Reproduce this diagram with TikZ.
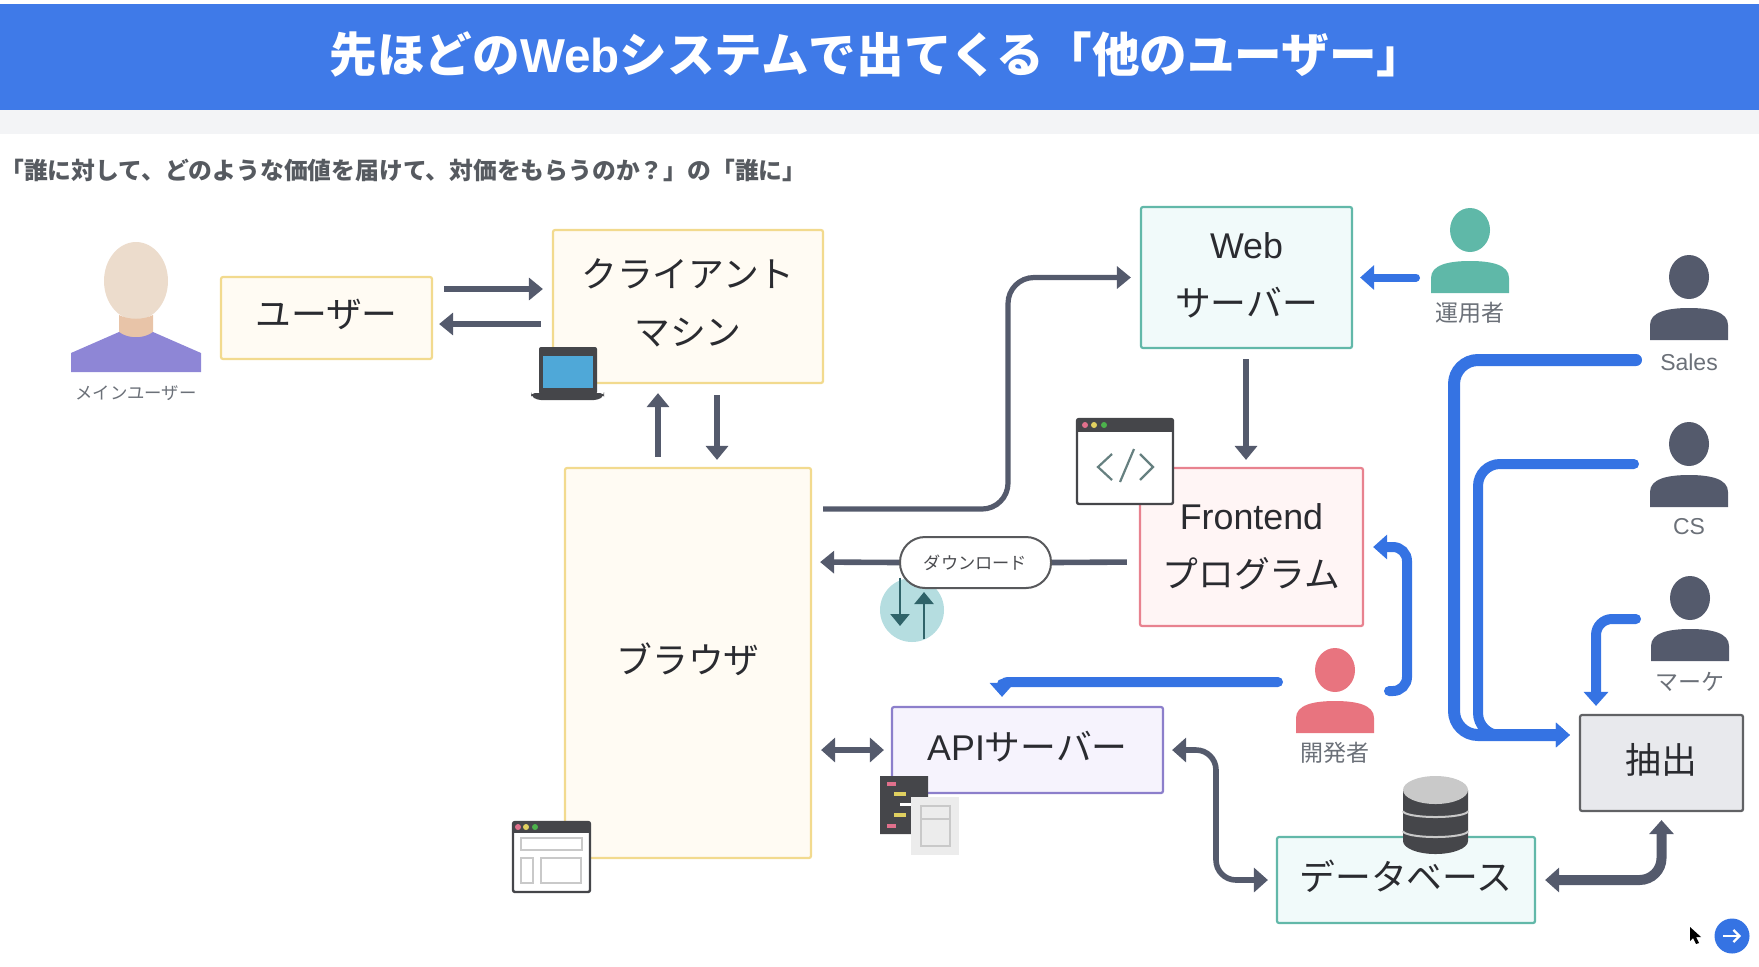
\documentclass[tikz,border=0pt]{standalone}
\usepackage{fontspec}
\setmainfont{Liberation Sans}
\newfontfamily\jp{Noto Sans CJK JP}
\usetikzlibrary{arrows.meta}

\definecolor{headblue}{HTML}{3F7AE8}
\definecolor{bandgrey}{HTML}{F3F4F6}
\definecolor{linkblue}{HTML}{3573E3}
\definecolor{slate}{HTML}{545A6C}
\definecolor{inkdark}{HTML}{2A2B30}
\definecolor{tagtext}{HTML}{6B7078}
\definecolor{iconblack}{HTML}{45464A}
\definecolor{icongrey}{HTML}{C9C9C9}
\definecolor{yellowline}{HTML}{F2DA8E}
\definecolor{yellowfill}{HTML}{FFFBF3}
\definecolor{tealline}{HTML}{62B8A9}
\definecolor{tealfill}{HTML}{F1FAFA}
\definecolor{redline}{HTML}{E8828F}
\definecolor{redfill}{HTML}{FFF5F5}
\definecolor{violetline}{HTML}{8C7FCB}
\definecolor{violetfill}{HTML}{F6F3FD}
\definecolor{greyfill}{HTML}{E8E9ED}
\definecolor{operatorteal}{HTML}{5FB8A8}
\definecolor{devred}{HTML}{E8747F}
\definecolor{bodyviolet}{HTML}{8E86D6}
\definecolor{headskin}{HTML}{ECDCCC}
\definecolor{neckskin}{HTML}{E8C4A8}
\definecolor{screenblue}{HTML}{4FA8D8}
\definecolor{circleteal}{HTML}{B5DDE0}
\definecolor{arrowteal}{HTML}{2F6369}
\definecolor{dotpink}{HTML}{E0708C}
\definecolor{dotyellow}{HTML}{E0D060}

\tikzset{
  textbig/.style={font=\jp\fontsize{17.9}{29}\selectfont,text=inkdark,align=center,text depth=4.5pt},
  box/.style={draw,rounded corners=1pt,line width=1.1pt,textbig},
  yellowbox/.style={box,draw=yellowline,fill=yellowfill},
  tealbox/.style={box,draw=tealline,fill=tealfill},
  tag/.style={font=\jp\fontsize{11.5}{14}\selectfont,text=tagtext},
  conn/.style={draw=slate,line width=2.6pt,-{Triangle[length=7pt,width=11pt]}},
  connwide/.style={draw=slate,line width=3.3pt,{Triangle[length=7pt,width=12pt]}-{Triangle[length=7pt,width=12pt]}},
  bluelink/.style={draw=linkblue,line width=5pt,line cap=round,-{Triangle[length=7pt,width=12pt]}},
  person/.pic={
    \fill[pic actions] (0,0) ellipse [x radius=20,y radius=22];
    \fill[pic actions] (-39,63) -- (-39,48) .. controls (-39,35) and (-22,31) .. (0,31)
      .. controls (22,31) and (39,35) .. (39,48) -- (39,63) -- cycle;
  }
}

\begin{document}
\begin{tikzpicture}[x=0.5pt,y=-0.5pt]
  \useasboundingbox (0,0) rectangle (1759,966);

  % title
  \fill[headblue] (0,4) rectangle (1759,110);
  \fill[bandgrey] (0,110) rectangle (1759,134);
  \node[text=white,font=\jp\bfseries\fontsize{23.8}{26}\selectfont] (title) at (877,54)
    {先ほどの{\rmfamily Web}システムで出てくる「他のユーザー」};
  \node[anchor=west,inner sep=0pt,text=tagtext!80!black,font=\jp\bfseries\fontsize{11.9}{14}\selectfont] (question) at (0,170)
    {「誰に対して、どのような価値を届けて、対価をもらうのか？」の「誰に」};

  % boxes
  \node[yellowbox,minimum width=105.5pt,minimum height=41pt] (user) at (326.5,318) {ユーザー};
  \node[yellowbox,minimum width=135pt,minimum height=76.5pt] (client) at (688,306.5) {クライアント\\マシン};
  \node[yellowbox,minimum width=123pt,minimum height=195pt] (browser) at (688,663) {ブラウザ};
  \node[tealbox,text depth=2.5pt,minimum width=105.5pt,minimum height=70.5pt] (web) at (1246.5,277.5) {{\rmfamily Web}\\サーバー};
  \node[box,text depth=1.5pt,draw=redline,fill=redfill,minimum width=111.5pt,minimum height=79pt] (front) at (1251.5,547) {{\rmfamily Frontend}\\プログラム};
  \node[box,draw=violetline,fill=violetfill,minimum width=135.5pt,minimum height=43pt] (api) at (1027.5,750) {{\rmfamily API}サーバー};
  \node[tealbox,minimum width=129pt,minimum height=43pt] (db) at (1406,880) {データベース};
  \node[box,draw=iconblack!85,fill=greyfill,minimum width=81.5pt,minimum height=48pt] (extract) at (1661.5,763) {抽出};

  % main user
  \fill[headskin] (136,281) ellipse [x radius=32,y radius=39];
  \fill[neckskin] (119,315) .. controls (128,320) and (144,320) .. (153,315) -- (153,340) -- (119,340) -- cycle;
  \fill[bodyviolet] (71,372) -- (71,353) -- (119,332) .. controls (128,339) and (144,339) .. (153,332)
    -- (201,353) -- (201,372) -- cycle;
  \node[tag,font=\jp\fontsize{8.7}{10}\selectfont] (mainuser) at (136,393) {メインユーザー};

  % other people
  \pic[fill=operatorteal] (operator) at (1470,230) {person};
  \pic[fill=devred] (developer) at (1335,670) {person};
  \pic[fill=slate] (sales) at (1689,277) {person};
  \pic[fill=slate] (cs) at (1689,444) {person};
  \pic[fill=slate] (marke) at (1690,598) {person};
  \node[tag] (operatortag) at (1470,313) {運用者};
  \node[tag] (developertag) at (1335,753) {開発者};
  \node[tag,font=\fontsize{11.5}{14}\selectfont] (salestag) at (1689,362) {Sales};
  \node[tag,font=\fontsize{11.5}{14}\selectfont] (cstag) at (1689,527) {CS};
  \node[tag] (marketag) at (1690,682) {マーケ};

  \coordinate (operatorout) at (1416,277.5);
  \coordinate (salesout) at (1636,360);
  \coordinate (csout) at (1634,464);
  \coordinate (markeout) at (1636,619);
  \coordinate (devleft) at (1278,682);
  \coordinate (devright) at (1389,691);

  % grey connectors
  \draw[conn,line width=3.3pt,shorten <=5.5pt,shorten >=4.5pt] ([yshift=14.5pt]user.east) -- ([yshift=8.75pt]client.west);
  \draw[conn,line width=3.3pt,shorten <=5.5pt,shorten >=3pt] ([yshift=-8.75pt]client.west) -- ([yshift=-3pt]user.east);
  \draw[conn,shorten <=5pt,shorten >=4.5pt] ([xshift=-15pt]browser.north) -- ([xshift=-15pt]client.south);
  \draw[conn,shorten <=5.5pt,shorten >=3.5pt] ([xshift=14.5pt]client.south) -- ([xshift=14.5pt]browser.north);
  \draw[conn,rounded corners=13pt,shorten >=4.5pt] ([xshift=5.5pt,yshift=77pt]browser.east) -- (1008,509) -- (1008,277.5) -- (web.west);
  \draw[conn,shorten <=5pt,shorten >=3.5pt] ([xshift=-0.25pt]web.south) -- ([xshift=-2.75pt]front.north);
  \draw[connwide,shorten <=4.5pt,shorten >=3.5pt] ([yshift=-43.5pt]browser.east) -- (api.west);
  \draw[connwide,line width=2.8pt,rounded corners=10pt,shorten <=4pt,shorten >=4pt] (api.east) -- (1216,750) -- (1216,880) -- (db.west);
  \draw[connwide,line width=5pt,rounded corners=11pt,shorten <=4.5pt,shorten >=4pt] (db.east) -- (1661.5,880) -- (extract.south);

  % download
  \node[circle,fill=circleteal,minimum size=32pt,inner sep=0pt] (updown) at (912,610) {};
  \node[draw=iconblack!90,fill=white,line width=1pt,rounded corners=12.5pt,minimum width=75.5pt,minimum height=25.5pt,text=inkdark!85,font=\jp\fontsize{8.6}{10}\selectfont] (download) at (975.5,562.5) {ダウンロード};
  \draw[slate,line width=2.8pt,shorten <=6pt] ([yshift=-7.5pt]front.west) -- (download.east);
  \draw[conn,line width=2.8pt,shorten >=4pt] (download.west) -- ([yshift=50.5pt]browser.east);
  \draw[draw=arrowteal,line width=1.2pt,-{Triangle[length=6pt,width=9.5pt]}] ([xshift=-6pt]updown.north) -- ([xshift=-6pt,yshift=-8pt]updown.center);
  \draw[draw=arrowteal,line width=1.2pt,-{Triangle[length=6pt,width=9.5pt]}] ([xshift=6pt,yshift=-14.5pt]updown.center) -- ([xshift=6pt,yshift=9pt]updown.center);

  % blue connectors
  \draw[bluelink,line width=4pt,shorten >=3.5pt] (operatorout) -- (web.east);
  \draw[bluelink,line width=6pt,rounded corners=12pt,shorten >=4.5pt] (salesout) -- (1454,360) -- (1454,735) -- ([yshift=14pt]extract.west);
  \draw[bluelink,rounded corners=11pt,shorten >=4.5pt] (csout) -- (1478,464) -- (1478,735) -- ([yshift=14pt]extract.west);
  \draw[bluelink,rounded corners=8pt,shorten >=4pt] (markeout) -- (1596,619) -- ([xshift=-32.75pt]extract.north);
  \draw[bluelink,rounded corners=7pt,shorten >=4.5pt] (devright) -- (1407,691) -- (1407,547) -- (front.east);
  \draw[bluelink,rounded corners=3pt,shorten >=4.5pt] (devleft) -- (1002,682) -- ([xshift=-12.75pt]api.north);

  % laptop
  \fill[iconblack,rounded corners=1pt] (539,347) rectangle (597,394);
  \fill[screenblue] (543,356) rectangle (593,388);
  \fill[iconblack,rounded corners=2pt] (531,393) -- (604,393) -- (604,396) -- (598,400) -- (537,400) -- (531,396) -- cycle;

  % browser window
  \draw[iconblack,fill=white,line width=1.2pt,rounded corners=1pt] (513,822) rectangle (590,892);
  \fill[iconblack] (513,822) rectangle (590,833);
  \fill[dotpink] (518,827) circle (3);
  \fill[dotyellow] (526,827) circle (3);
  \fill[gray!60!green] (535,827) circle (3);
  \draw[icongrey,line width=1.2pt] (521,838) rectangle (582,850);
  \draw[icongrey,line width=1.2pt] (521,858) rectangle (533,883);
  \draw[icongrey,line width=1.2pt] (541,858) rectangle (581,883);

  % code window
  \draw[iconblack,fill=white,line width=1.2pt,rounded corners=1pt] (1077,419) rectangle (1173,504);
  \fill[iconblack] (1077,419) rectangle (1173,432);
  \fill[dotpink] (1085,425) circle (3);
  \fill[dotyellow] (1094,425) circle (3);
  \fill[gray!60!green] (1104,425) circle (3);
  \draw[gray!80!teal,line width=1.1pt] (1112,454) -- (1098,467) -- (1112,480);
  \draw[gray!80!teal,line width=1.1pt] (1120,482) -- (1134,449);
  \draw[gray!80!teal,line width=1.1pt] (1140,454) -- (1153,467) -- (1140,480);

  % api icon
  \fill[iconblack] (880,776) -- (928,776) -- (928,797) -- (911,797) -- (911,834) -- (880,834) -- cycle;
  \fill[dotpink] (887,782) rectangle (896,786);
  \fill[dotyellow] (894,792) rectangle (906,796);
  \fill[white] (900,803) rectangle (911,806);
  \fill[dotyellow] (894,813) rectangle (906,817);
  \fill[dotpink] (887,824) rectangle (896,828);
  \fill[gray!15] (911,797) rectangle (959,855);
  \draw[icongrey,line width=1.2pt,fill=gray!15] (921,806) rectangle (950,846);
  \draw[icongrey,line width=1.2pt] (921,819) -- (950,819);

  % database
  \fill[iconblack] (1403,790) -- (1403,841) arc [start angle=180,end angle=360,x radius=32.5,y radius=-13] -- (1468,790) -- cycle;
  \fill[icongrey] (1435.5,790) ellipse [x radius=32.5,y radius=14];
  \draw[icongrey,line width=1pt] (1403,811) arc [start angle=180,end angle=360,x radius=32.5,y radius=-6];
  \draw[icongrey,line width=1pt] (1403,831) arc [start angle=180,end angle=360,x radius=32.5,y radius=-6];

  % cursor and next button
  \fill[black] (1690,927) -- (1690,941) -- (1693,938) -- (1696,944) -- (1699,943) -- (1696,937) -- (1701,937) -- cycle;
  \node[circle,fill=linkblue,minimum size=17.5pt,inner sep=0pt] (nextbtn) at (1732,936) {};
  \draw[white,line width=1.1pt,-{Straight Barb[length=3pt,width=6pt]}] ([xshift=-4.5pt]nextbtn.center) -- ([xshift=4.5pt]nextbtn.center);
\end{tikzpicture}
\end{document}
